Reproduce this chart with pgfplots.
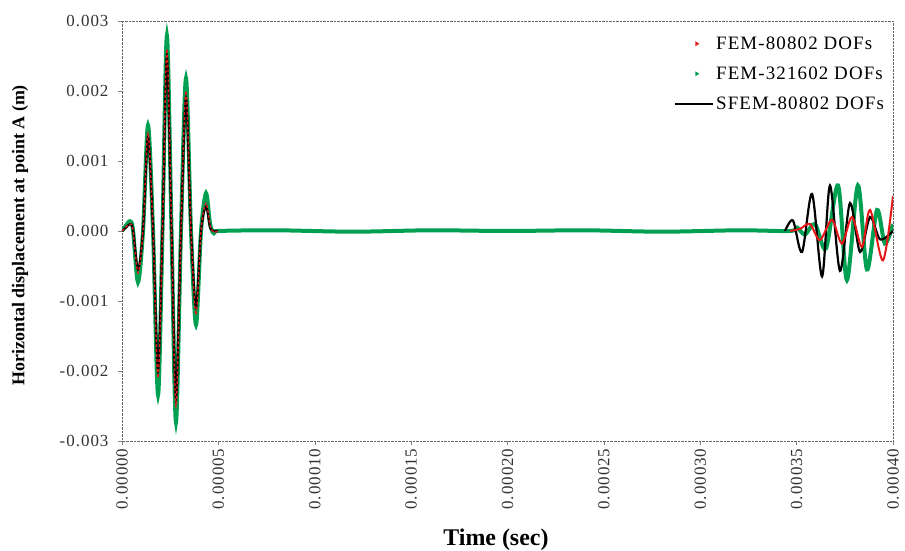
\documentclass[border=0pt]{standalone}
\usepackage{fontspec}
\setmainfont{Liberation Serif}
\newfontfamily\widefont[LetterSpace=6]{Liberation Serif}
\usepackage{pgfplots}
\pgfplotsset{compat=1.18}

\definecolor{femred}{RGB}{232,24,24}
\definecolor{femgreen}{RGB}{0,160,82}

\begin{document}
\begin{tikzpicture}
\begin{axis}[
  name=ax,
  scale only axis,
  width=771bp, height=420bp,
  xmin=0, xmax=0.0004,
  ymin=-0.003, ymax=0.003,
  scaled x ticks=false, scaled y ticks=false,
  xtick={0,0.00005,0.0001,0.00015,0.0002,0.00025,0.0003,0.00035,0.0004},
  xticklabels={0.00000,0.00005,0.00010,0.00015,0.00020,0.00025,0.00030,0.00035,0.00040},
  ytick={-0.003,-0.002,-0.001,0,0.001,0.002,0.003},
  yticklabels={-0.003,-0.002,-0.001,0.000,0.001,0.002,0.003},
  xtick pos=bottom, ytick pos=left,
  tick align=outside,
  major tick length=4bp,
  tick style={gray, thin},
  axis line style={gray!80!black, densely dotted, thin},
  tick label style={font=\widefont\fontsize{17}{20}\selectfont, text=black!80},
  xticklabel style={rotate=90, anchor=east},
  yticklabel style={xshift=-6bp},
  xlabel={Time (sec)},
  ylabel={Horizontal displacement at point A (m)},
  xlabel style={font=\bfseries\fontsize{24}{28}\selectfont, at={(axis description cs:0.485,-0.236)}, anchor=center},
  ylabel style={font=\bfseries\fontsize{18}{22}\selectfont, at={(axis description cs:-0.1323,0.49)}, anchor=center},
  legend cell align=left,
  legend style={
    at={(axis description cs:0.995,0.975)}, anchor=north east,
    draw=none, fill=white, fill opacity=1,
    font=\widefont\fontsize{19}{22}\selectfont,
    row sep=12bp, inner sep=3bp,
  },
]

% legend entries in the order FEM-80802, FEM-321602, SFEM-80802
\addlegendimage{legend image code/.code={
  \fill[femred, draw=none] (20bp,-2.5bp) -- (20bp,2.5bp) -- (24bp,0bp) -- cycle;
  \path[draw=none] (0bp,0bp) -- (38bp,0bp);}}
\addlegendentry{FEM-80802 DOFs}
\addlegendimage{legend image code/.code={
  \fill[femgreen, draw=none] (20bp,-2.5bp) -- (20bp,2.5bp) -- (24bp,0bp) -- cycle;
  \path[draw=none] (0bp,0bp) -- (38bp,0bp);}}
\addlegendentry{FEM-321602 DOFs}
\addlegendimage{legend image code/.code={
  \draw[black, line width=1.6bp] (0bp,0bp) -- (38bp,0bp);}}
\addlegendentry{SFEM-80802 DOFs}

% SFEM, 80802 DOFs: quiet stretch between the two wave trains
\addplot[black, line width=2.2bp, forget plot] coordinates {
 (0.0000498,0) (0.0002,0) (0.000344,0)
};

% FEM, 321602 DOFs
\addplot[femgreen, line width=4bp, smooth, forget plot] coordinates {
 (0,0) (0.0000021,0.00008) (0.0000042,0.00014) (0.0000057,0.00002)
 (0.0000083,-0.00073) (0.0000109,0) (0.0000135,0.00151) (0.0000161,0)
 (0.0000187,-0.00234) (0.0000210,0) (0.0000233,0.00279) (0.0000257,0)
 (0.0000280,-0.00273) (0.0000306,0) (0.0000332,0.00218) (0.0000358,0)
 (0.0000384,-0.00134) (0.0000410,0) (0.0000436,0.00054) (0.0000457,0.0001)
 (0.0000477,-0.00003) (0.0000498,0) (0.00008,0.00001) (0.00012,-0.00001)
 (0.00016,0.00001) (0.0002,0) (0.00024,0.00001) (0.00028,-0.00001)
 (0.00032,0.00001) (0.0003466,0) (0.0003502,0.00005) (0.0003543,-0.00005)
 (0.0003595,0.0001) (0.0003652,-0.00025) (0.0003715,0.00065) (0.0003761,-0.0007)
 (0.0003818,0.00065) (0.0003865,-0.00055) (0.0003917,0.0003) (0.0003958,-0.00018)
 (0.0004,0.0001)
};

% SFEM, 80802 DOFs: incident and reflected wave trains
\addplot[black, line width=2.2bp, smooth, forget plot] coordinates {
 (0,0) (0.0000021,0.00005) (0.0000042,0.0001) (0.0000057,0.00002)
 (0.0000083,-0.00055) (0.0000109,0) (0.0000135,0.00135) (0.0000161,0)
 (0.0000187,-0.0020) (0.0000210,0) (0.0000233,0.0025) (0.0000257,0)
 (0.0000280,-0.0024) (0.0000306,0) (0.0000332,0.0019) (0.0000358,0)
 (0.0000384,-0.0011) (0.0000410,0) (0.0000436,0.00035) (0.0000457,0.00005)
 (0.0000477,0) (0.0000498,0)
};
\addplot[black, line width=2.2bp, smooth, forget plot] coordinates {
 (0.000344,0)
 (0.0003481,0.00015) (0.0003528,-0.0003) (0.0003580,0.00053) (0.0003632,-0.00065)
 (0.0003673,0.00065) (0.0003725,-0.00057) (0.0003777,0.0004) (0.0003829,-0.0003)
 (0.0003881,0.0002) (0.0003933,-0.00012) (0.0004,0)
};

% FEM, 80802 DOFs
\addplot[femred, line width=1.3bp, densely dashed, smooth, forget plot] coordinates {
 (0,0) (0.0000021,0.00006) (0.0000042,0.0001) (0.0000057,0.00002)
 (0.0000083,-0.0006) (0.0000109,0) (0.0000135,0.0014) (0.0000161,0)
 (0.0000187,-0.0021) (0.0000210,0) (0.0000233,0.0026) (0.0000257,0)
 (0.0000280,-0.0025) (0.0000306,0) (0.0000332,0.0020) (0.0000358,0)
 (0.0000384,-0.0012) (0.0000410,0) (0.0000436,0.0004) (0.0000457,0.00008)
 (0.0000477,-0.00002) (0.0000498,0)
};
\addplot[femred, line width=2bp, smooth, forget plot] coordinates {
 (0.0003466,0) (0.0003517,0.00003) (0.0003569,0.0001) (0.0003621,-0.00013)
 (0.0003683,0.00016) (0.0003735,-0.00018) (0.0003787,0.0002) (0.0003839,-0.00023)
 (0.0003881,0.0003) (0.0003948,-0.00042) (0.0004,0.0005)
};
\end{axis}
\pgfresetboundingbox
\path ([xshift=-122bp,yshift=-110bp]ax.south west) rectangle ([xshift=12bp,yshift=21bp]ax.north east);
\end{tikzpicture}
\end{document}
